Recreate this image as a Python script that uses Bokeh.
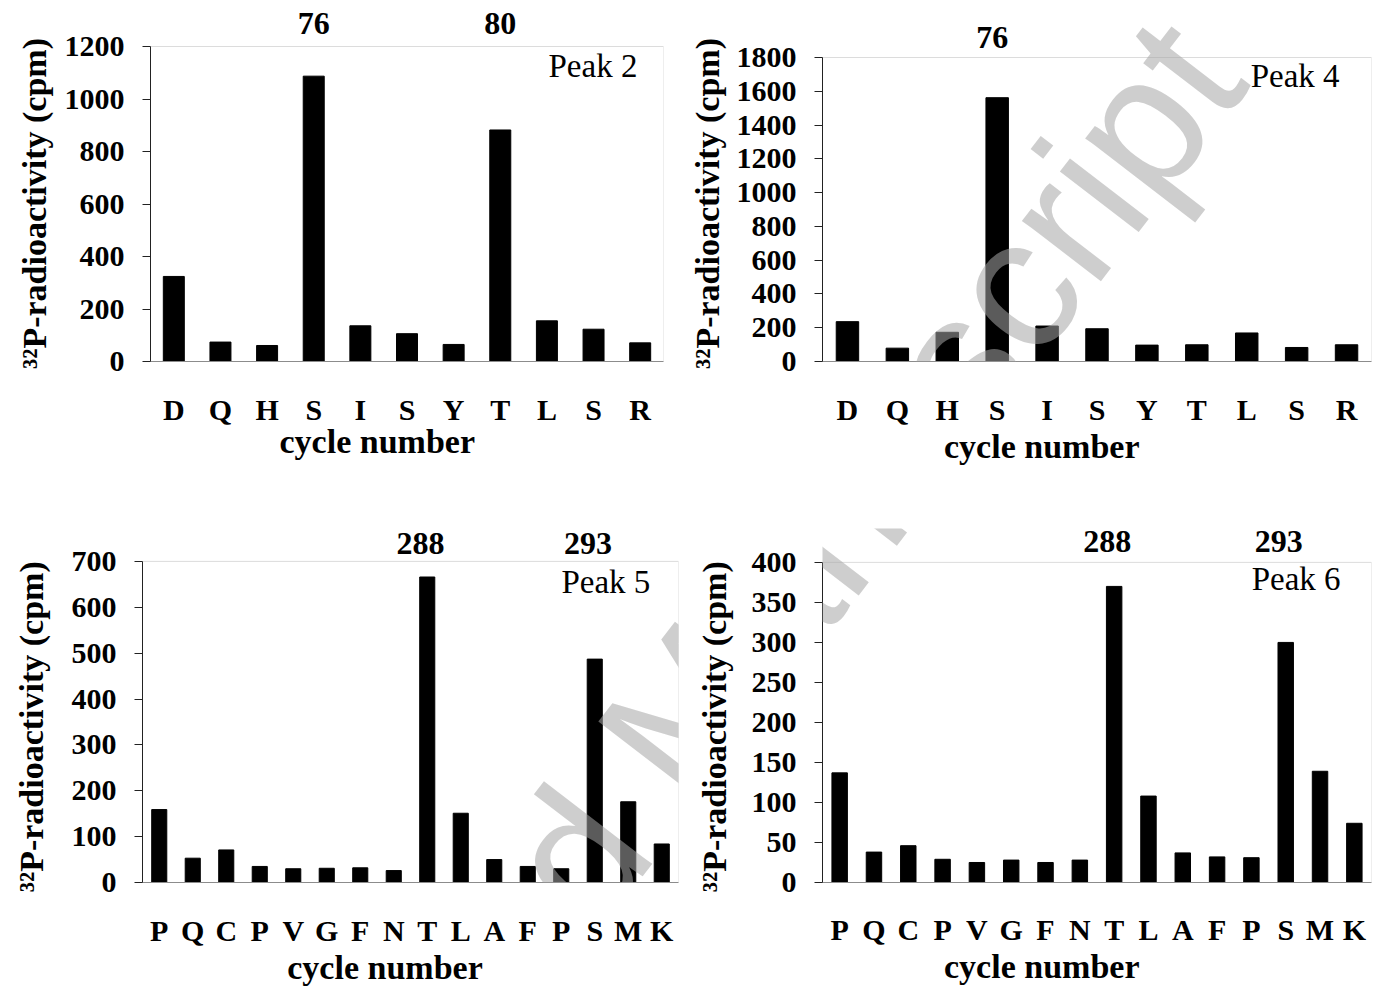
from bokeh.plotting import figure
from bokeh.models import Range1d, FixedTicker, Label, BoxAnnotation
from bokeh.layouts import column, row
from bokeh.embed import file_html
from bokeh.resources import INLINE

# ---------------- data ----------------
peak2_labels = ["D", "Q", "H", "S", "I", "S", "Y", "T", "L", "S", "R"]
peak2_values = [324, 74, 61, 1087, 136, 106, 65, 882, 155, 123, 71]
peak2_marks = {"76": 3, "80": 7}

peak4_labels = ["D", "Q", "H", "S", "I", "S", "Y", "T", "L", "S", "R"]
peak4_values = [236, 79, 173, 1562, 210, 194, 97, 99, 169, 83, 99]
peak4_marks = {"76": 3}

peak5_labels = ["P", "Q", "C", "P", "V", "G", "F", "N", "T", "L", "A", "F", "P", "S", "M", "K"]
peak5_values = [159, 53, 71, 35, 30, 31, 32, 26, 666, 151, 50, 35, 30, 487, 176, 84]
peak5_marks = {"288": 8, "293": 13}

peak6_labels = ["P", "Q", "C", "P", "V", "G", "F", "N", "T", "L", "A", "F", "P", "S", "M", "K"]
peak6_values = [137, 38, 46, 29, 25, 28, 25, 28, 370, 108, 37, 32, 31, 300, 139, 74]
peak6_marks = {"288": 8, "293": 13}

y_title = "\u00b3\u00b2P-radioactivity (cpm)"
x_title = "cycle number"

SERIF = "Liberation Serif"
NBSP = "\u00a0"
WM_TEXT = "Accepted Manuscript"
WM_CENTER = (665, 740)   # page px
WM_ANGLE = 0.915


def make_panel(labels, values, marks, peak_name, ymax, ystep, canvas, frame, box_top,
               peak_pos, mark_y, mark_dx, xstand, ystand, xlab_stand, xpad, ypad):
    cx, cy, cw, ch = canvas
    fl, ft, fr, fb = frame          # frame (plot area) in page px
    n = len(labels)
    x0, x1 = 0.5, n + 0.5
    # y range extends above the drawn box so that annotations fit in the frame
    yend = ymax * (fb - ft) / (fb - box_top)
    p = figure(width=cw, height=ch, output_backend="svg", toolbar_location=None,
               x_range=Range1d(x0, x1), y_range=Range1d(0, yend),
               min_border_left=fl - cx, min_border_right=cx + cw - fr,
               min_border_top=ft - cy, min_border_bottom=cy + ch - fb,
               background_fill_color="white", border_fill_color="white")
    p.outline_line_color = None
    p.xgrid.visible = False
    p.ygrid.visible = False

    p.add_layout(BoxAnnotation(left=x0, right=x1, bottom=0, top=ymax,
                               fill_color=None, fill_alpha=0,
                               line_color="#8c8c8c", line_width=1, level="underlay"))

    xs = list(range(1, n + 1))
    p.vbar(x=xs, top=values, width=0.45, bottom=0, color="black")

    # y axis
    ya = p.yaxis[0]
    ya.bounds = (0, ymax)
    ya.ticker = FixedTicker(ticks=list(range(0, ymax + 1, ystep)))
    ya.axis_line_color = "#222222"
    ya.major_tick_line_color = "#222222"
    ya.major_tick_out = 8
    ya.major_tick_in = 0
    ya.minor_tick_line_color = None
    ya.major_label_text_font = SERIF
    ya.major_label_text_font_style = "bold"
    ya.major_label_text_font_size = "30px"
    ya.major_label_text_color = "black"
    ya.major_label_standoff = 18
    ya.axis_label = y_title + NBSP * ypad
    ya.axis_label_text_font = SERIF
    ya.axis_label_text_font_style = "bold"
    ya.axis_label_text_font_size = "34px"
    ya.axis_label_text_color = "black"
    ya.axis_label_standoff = ystand

    # x axis
    xa = p.xaxis[0]
    xa.ticker = FixedTicker(ticks=xs)
    xa.major_label_overrides = {i: lab for i, lab in zip(xs, labels)}
    xa.axis_line_color = "#8c8c8c"
    xa.major_tick_line_color = None
    xa.minor_tick_line_color = None
    xa.major_label_text_font = SERIF
    xa.major_label_text_font_style = "bold"
    xa.major_label_text_font_size = "30px"
    xa.major_label_text_color = "black"
    xa.major_label_standoff = xstand
    xa.axis_label = x_title + NBSP * xpad
    xa.axis_label_text_font = SERIF
    xa.axis_label_text_font_style = "bold"
    xa.axis_label_text_font_size = "34px"
    xa.axis_label_text_color = "black"
    xa.axis_label_standoff = xlab_stand

    # peak name
    p.add_layout(Label(x=peak_pos[0], y=peak_pos[1], text=peak_name,
                       text_align="right", text_baseline="alphabetic",
                       text_font=SERIF, text_font_size="33px", text_color="black"))
    # residue numbers above bars
    for txt, idx in marks.items():
        p.add_layout(Label(x=idx + 1 + mark_dx, y=mark_y, text=txt, text_align="center",
                           text_baseline="alphabetic", text_font=SERIF,
                           text_font_style="bold", text_font_size="32px",
                           text_color="black"))

    # watermark (page coordinates converted to this panel's data space)
    wx = x0 + (WM_CENTER[0] - fl) / (fr - fl) * (x1 - x0)
    wy = (fb - WM_CENTER[1]) / (fb - ft) * yend
    p.add_layout(Label(x=wx, y=wy, text=WM_TEXT, angle=WM_ANGLE,
                       text_align="center", text_baseline="middle",
                       text_font="Liberation Sans", text_font_size="188px",
                       text_color="#a6a6a6", text_alpha=0.55, level="overlay"))
    return p


# canvas = (x, y, w, h) in page px ; frame = (left, top, right, bottom)
p1 = make_panel(peak2_labels, peak2_values, peak2_marks, "Peak 2", 1200, 200,
                (0, 0, 684, 500), (150, 11, 663, 361), 46,
                (10.94, 1124), 1288, 0.0, 25, 9, -6, 7, 4)
p2 = make_panel(peak4_labels, peak4_values, peak4_marks, "Peak 4", 1800, 200,
                (684, 0, 699, 500), (822, 11, 1371, 361), 57,
                (10.86, 1693), 1918, -0.1, 25, 8, -1, 13, 4)
p3 = make_panel(peak5_labels, peak5_values, peak5_marks, "Peak 5", 700, 100,
                (0, 500, 684, 488), (142, 528, 678, 883), 561,
                (15.66, 656), 739, -0.2, 25, 19, -1, 6, 5)
p4 = make_panel(peak6_labels, peak6_values, peak6_marks, "Peak 6", 400, 50,
                (684, 500, 699, 488), (822, 528, 1371, 883), 562,
                (15.6, 379), 426, -0.2, 24, 16, -1, 13, 5)

layout = column(row(p1, p2), row(p3, p4))
open("out.html", "w").write(file_html(layout, INLINE))
